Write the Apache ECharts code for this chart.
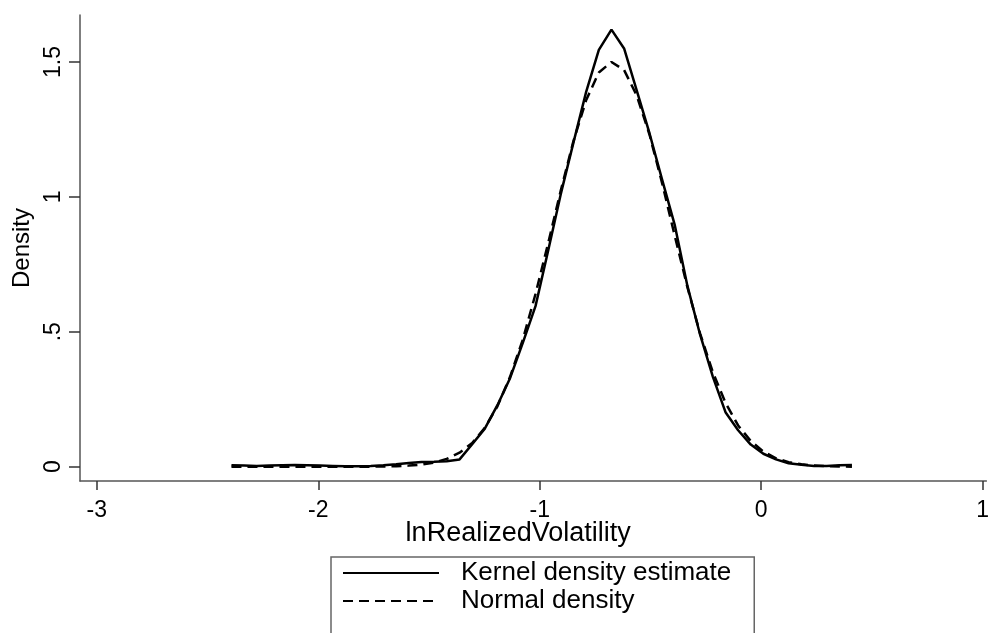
<!DOCTYPE html>
<html>
<head>
<meta charset="utf-8">
<script src="https://cdn.jsdelivr.net/npm/echarts@6/dist/echarts.min.js"></script>
<style>
html,body{margin:0;padding:0;background:#fff;}
#chart{width:992px;height:633px;}
</style>
</head>
<body>
<div id="chart"></div>
<script>
// Evaluation grid (lnRealizedVolatility)
var xGrid = [-2.392,-2.335,-2.278,-2.220,-2.163,-2.106,-2.049,-1.992,-1.934,-1.877,
  -1.820,-1.763,-1.706,-1.648,-1.591,-1.534,-1.477,-1.420,-1.362,-1.305,
  -1.248,-1.191,-1.134,-1.076,-1.019,-0.962,-0.905,-0.848,-0.790,-0.733,
  -0.676,-0.619,-0.562,-0.504,-0.447,-0.390,-0.333,-0.276,-0.218,-0.161,
  -0.104,-0.047,0.010,0.067,0.124,0.182,0.239,0.296,0.353,0.410];
// Kernel density estimate
var kernelDensity = [0.005,0.004,0.003,0.004,0.005,0.006,0.005,0.004,0.003,0.002,
  0.002,0.003,0.005,0.009,0.014,0.017,0.018,0.020,0.027,0.083,
  0.141,0.228,0.328,0.460,0.595,0.800,1.010,1.200,1.390,1.545,
  1.620,1.550,1.395,1.235,1.063,0.895,0.670,0.490,0.333,0.202,
  0.135,0.082,0.048,0.027,0.013,0.007,0.003,0.003,0.005,0.006];
// Normal density
var normalDensity = [0.000,0.000,0.000,0.000,0.000,0.000,0.000,0.000,0.000,0.000,
  0.000,0.000,0.001,0.002,0.004,0.008,0.015,0.029,0.052,0.088,
  0.144,0.224,0.333,0.472,0.640,0.828,1.023,1.206,1.359,1.461,
  1.500,1.470,1.376,1.230,1.050,0.855,0.665,0.494,0.350,0.237,
  0.153,0.095,0.056,0.031,0.017,0.009,0.004,0.002,0.001,0.000];
var xTicks = [-3,-2,-1,0,1];
var yTicks = [0,0.5,1,1.5];
var seriesNames = ['Kernel density estimate','Normal density'];
var xTitle = 'lnRealizedVolatility';
var yTitle = 'Density';

function pairs(xs, ys){ return xs.map(function(x,i){ return [x, ys[i]]; }); }
var FONT = '"Liberation Sans", Arial, Helvetica, sans-serif';

var chart = echarts.init(document.getElementById('chart'), null, {renderer:'canvas'});
chart.setOption({
  animation: false,
  backgroundColor: '#ffffff',
  grid: {left: 80, right: 0, top: 15, bottom: 152, containLabel: false},
  xAxis: {
    type: 'value', min: -3.076, max: 1.017,
    name: xTitle, nameLocation: 'middle', nameGap: 39, nameMoveOverlap: false,
    nameTextStyle: {fontFamily: FONT, fontSize: 27, color: '#000', padding: [0, 30, 0, 0]},
    axisLine: {show: true, onZero: false, lineStyle: {color: '#555', width: 1.5}},
    axisTick: {show: true, customValues: xTicks, length: 9, lineStyle: {color: '#333', width: 1.5}},
    axisLabel: {customValues: xTicks, margin: 18, fontFamily: FONT, fontSize: 23, color: '#000',
      formatter: function(v){ return String(v); }},
    splitLine: {show: false}
  },
  yAxis: {
    type: 'value', min: -0.053, max: 1.674,
    name: yTitle, nameLocation: 'middle', nameGap: 46, nameRotate: 90,
    nameTextStyle: {fontFamily: FONT, fontSize: 24, color: '#000'},
    axisLine: {show: true, onZero: false, lineStyle: {color: '#555', width: 1.5}},
    axisTick: {show: true, customValues: yTicks, length: 11, lineStyle: {color: '#333', width: 1.5}},
    axisLabel: {customValues: yTicks, rotate: 90, margin: 15, fontFamily: FONT, fontSize: 23, color: '#000',
      formatter: function(v){ return String(v).replace(/^0\./, '.'); }},
    splitLine: {show: false}
  },
  legend: {
    orient: 'vertical', left: 331, top: 557, height: 120,
    padding: [3, 23, 40, 11],
    itemWidth: 96, itemHeight: 14, itemGap: 2,
    borderColor: '#666', borderWidth: 1.5, borderRadius: 0,
    backgroundColor: '#fff',
    itemStyle: {opacity: 0},
    textStyle: {fontFamily: FONT, fontSize: 26, color: '#000', padding: [0, 0, 0, 17]},
    data: seriesNames
  },
  series: [
    {name: seriesNames[0], type: 'line', data: pairs(xGrid, kernelDensity), showSymbol: false, symbol: 'none',
      lineStyle: {color: '#000', width: 2.5, type: 'solid'}, itemStyle: {color: '#000'}},
    {name: seriesNames[1], type: 'line', data: pairs(xGrid, normalDensity), showSymbol: false, symbol: 'none',
      lineStyle: {color: '#000', width: 2.5, type: [10, 6]}, itemStyle: {color: '#000'}}
  ]
});
</script>
</body>
</html>
